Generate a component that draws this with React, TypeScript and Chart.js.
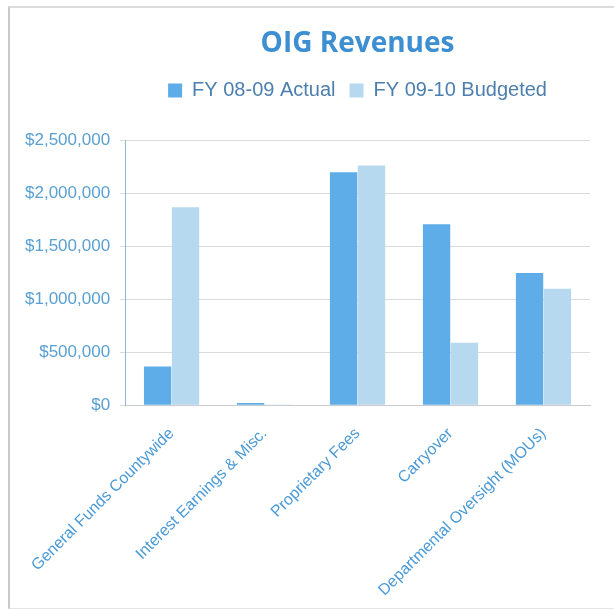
import React, { useEffect, useRef } from "react";
import { Chart, registerables } from "chart.js";

Chart.register(...registerables);

const categories = [
  "General Funds Countywide",
  "Interest Earnings & Misc.",
  "Proprietary Fees",
  "Carryover",
  "Departmental Oversight (MOUs)",
];
const actual0809 = [365000, 20000, 2200000, 1710000, 1250000];
const budgeted0910 = [1870000, 6000, 2265000, 590000, 1100000];
const yTicks = [0, 500000, 1000000, 1500000, 2000000, 2500000];

const legendGap = {
  id: "legendGap",
  beforeInit(chart: any) {
    const orig = chart.legend.fit;
    chart.legend.fit = function () {
      orig.bind(chart.legend)();
      this.height += 30;
    };
  },
};

export default function App() {
  const ref = useRef<HTMLCanvasElement | null>(null);
  useEffect(() => {
    if (!ref.current) return;
    const chart = new Chart(ref.current, {
      type: "bar",
      data: {
        labels: categories,
        datasets: [
          {
            label: "FY 08-09 Actual",
            data: actual0809,
            backgroundColor: "#5eade8",
            categoryPercentage: 0.6,
            barPercentage: 0.98,
          },
          {
            label: "FY 09-10 Budgeted",
            data: budgeted0910,
            backgroundColor: "#b6d9ef",
            categoryPercentage: 0.6,
            barPercentage: 0.98,
          },
        ],
      },
      plugins: [legendGap],
      options: {
        animation: false,
        responsive: false,
        maintainAspectRatio: false,
        layout: { padding: { left: 15, right: 24, top: 25, bottom: 0 } },
        plugins: {
          title: {
            display: true,
            fullSize: false,
            text: "OIG Revenues",
            color: "#3d8fd2",
            font: { family: "'Open Sans', sans-serif", size: 28, weight: "bold" },
            padding: { top: 2, bottom: 6 },
          },
          legend: {
            display: true,
            fullSize: false,
            labels: {
              color: "#4d7fae",
              font: { family: "'Liberation Sans', Arial, sans-serif", size: 20 },
              boxWidth: 14,
              boxHeight: 14,
              padding: 14,
            },
          },
          tooltip: { enabled: false },
        },
        scales: {
          x: {
            grid: { display: false },
            border: { color: "#c8ccd0" },
            ticks: {
              color: "#4b9ad6",
              font: { family: "'Liberation Sans', Arial, sans-serif", size: 16 },
              minRotation: 45,
              maxRotation: 45,
              autoSkip: false,
              padding: 11,
            },
          },
          y: {
            min: 0,
            max: 2500000,
            afterBuildTicks: (axis: any) => {
              axis.ticks = yTicks.map((v) => ({ value: v }));
            },
            grid: { color: "#d9dbdd", drawTicks: true, tickLength: 5 },
            border: { color: "#8fb5d6" },
            ticks: {
              color: "#5aa0d2",
              font: { family: "'Liberation Sans', Arial, sans-serif", size: 17 },
              padding: 10,
              callback: (v: any) => "$" + Number(v).toLocaleString("en-US"),
            },
          },
        },
      },
    });
    return () => chart.destroy();
  }, []);
  return (
    <div
      style={{
        position: "absolute",
        left: 0,
        top: 0,
        width: 614,
        height: 611,
        background: "#ffffff",
      }}
    >
      <div
        style={{
          position: "absolute",
          left: 8,
          top: 6,
          width: 604,
          height: 600,
          borderLeft: "2px solid #c9c9c9",
          borderTop: "2px solid #dcdcdc",
          borderBottom: "1px solid #e6e6e6",
        }}
      />
      <canvas ref={ref} width={614} height={611} style={{ position: "absolute", left: 0, top: 0 }} />
    </div>
  );
}
